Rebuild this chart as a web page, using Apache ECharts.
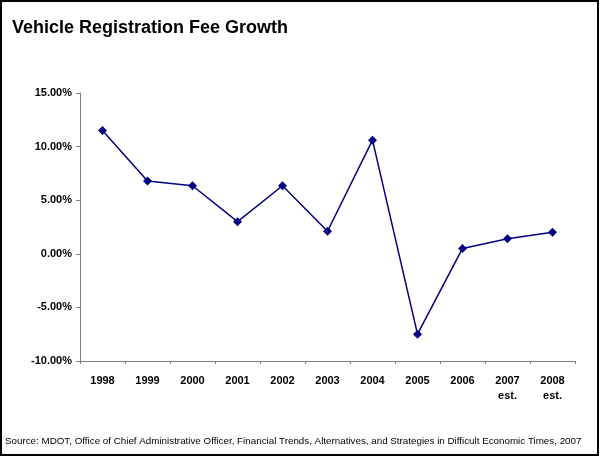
<!DOCTYPE html>
<html>
<head>
<meta charset="utf-8">
<script src="https://cdn.jsdelivr.net/npm/echarts@6/dist/echarts.min.js"></script>
<style>html,body{margin:0;padding:0;background:#fff}#c{width:600px;height:457px}</style>
</head>
<body>
<div id="c"></div>
<script>
const categories = ['1998','1999','2000','2001','2002','2003','2004','2005','2006','2007\nest.','2008\nest.'];
const growth = [11.5, 6.8, 6.35, 3.0, 6.35, 2.1, 10.6, -7.5, 0.5, 1.4, 2.0];
const yTicks = { min: -10, max: 15, interval: 5 };

const chart = echarts.init(document.getElementById('c'), null, {renderer: 'canvas'});
chart.setOption({
  animation: false,
  backgroundColor: '#fff',
  title: {
    text: 'Vehicle Registration Fee Growth',
    left: 7, top: 14,
    textStyle: {fontFamily: 'Liberation Sans, Arial', fontWeight: 'bold', fontSize: 18, color: '#000'}
  },
  graphic: [
    {type: 'rect', shape: {x: 1, y: 1, width: 597, height: 454}, style: {fill: 'none', stroke: '#000', lineWidth: 2}, silent: true},
    {type: 'text', left: 5, top: 436, style: {text: 'Source: MDOT, Office of Chief Administrative Officer, Financial Trends, Alternatives, and Strategies in Difficult Economic Times, 2007', font: '9.8px "Liberation Sans", Arial', fill: '#000'}}
  ],
  grid: {left: 80, right: 25, top: 93, bottom: 96, containLabel: false},
  xAxis: {
    type: 'category',
    data: categories,
    boundaryGap: true,
    axisLine: {onZero: false, lineStyle: {color: '#808080', width: 1}},
    axisTick: {show: true, length: 3, lineStyle: {color: '#808080'}},
    axisLabel: {color: '#000', fontWeight: 'bold', fontSize: 11, fontFamily: 'Liberation Sans, Arial', margin: 12, lineHeight: 15, interval: 0}
  },
  yAxis: {
    type: 'value',
    min: yTicks.min, max: yTicks.max, interval: yTicks.interval,
    axisLine: {show: true, lineStyle: {color: '#808080', width: 1}},
    axisTick: {show: true, length: 4, lineStyle: {color: '#808080'}},
    splitLine: {show: false},
    axisLabel: {color: '#000', fontWeight: 'bold', fontSize: 11, fontFamily: 'Liberation Sans, Arial', margin: 8,
      formatter: v => v.toFixed(2) + '%'}
  },
  series: [{
    type: 'line',
    data: growth,
    symbol: 'diamond',
    symbolSize: 9,
    lineStyle: {color: '#000080', width: 1.5},
    itemStyle: {color: '#000080'}
  }]
});
</script>
</body>
</html>
